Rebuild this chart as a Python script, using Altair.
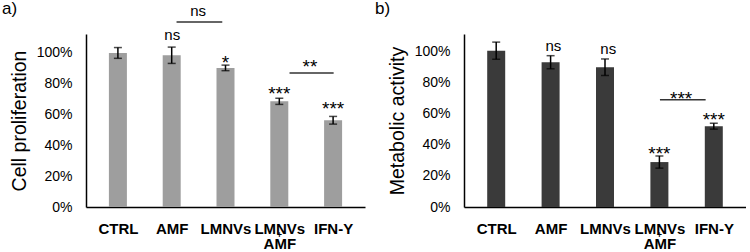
import json
import altair as alt
import pandas as pd

groups = ["CTRL", "AMF", "LMNVs", "LMNVs+AMF", "IFN-Y"]
axis_labels = ["CTRL", "AMF", "LMNVs", ["LMNVs", "AMF"], "IFN-Y"]

# a) cell proliferation (% of control)
prolif_mean = [100.0, 98.5, 90.3, 68.6, 56.3]
prolif_err = [3.5, 5.3, 1.8, 2.0, 2.5]
prolif_sig = ["", "ns", "*", "***", "***"]
prolif_sig_y = [None, 108.4, 89.9, 69.7, 60.0]
prolif_sig_x = [0, 1.01, 2.0, 3.0, 4.0]
prolif_brackets = [
    # from, to, line level, label, label position, label level
    (1.09, 1.94, 120.1, "ns", 1.49, 123.8),
    (3.19, 4.01, 87.0, "**", 3.57, 87.3),
]

# b) metabolic activity (% of control)
metab_mean = [100.2, 92.8, 89.6, 28.8, 51.8]
metab_err = [5.5, 4.2, 5.3, 3.9, 1.9]
metab_sig = ["", "ns", "ns", "***", "***"]
metab_sig_y = [None, 100.2, 98.0, 30.4, 52.2]
metab_sig_x = [0, 1.05, 2.06, 3.0, 4.0]
metab_brackets = [
    (3.01, 3.85, 68.8, "***", 3.40, 65.6),
]

FONT = "Liberation Sans"
H = 173
label_expr = json.dumps(axis_labels) + "[datum.value]"


def panel(means, errs, sig, sig_y, sig_x, brackets, ytitle, ymax, width,
          fill, tag, tag_x):
    idx = list(range(len(groups)))
    df = pd.DataFrame({
        "idx": idx,
        "group": groups,
        "mean": means,
        "lo": [m - e for m, e in zip(means, errs)],
        "hi": [m + e for m, e in zip(means, errs)],
    })
    sig_df = pd.DataFrame({
        "x": sig_x, "y": sig_y, "t": sig,
        "fs": [15 if s == "ns" else 19 for s in sig],
    }).dropna()
    br_df = pd.DataFrame(brackets, columns=["x1", "x2", "ly", "t", "tx", "ty"])
    br_df["fs"] = [15 if s == "ns" else 19 for s in br_df["t"]]

    xscale = alt.Scale(domain=[-0.5, len(groups) - 0.5], nice=False, zero=False)
    yscale = alt.Scale(domain=[0, ymax], nice=False)
    xaxis = alt.Axis(
        values=idx, labelExpr=label_expr, title=None, ticks=False, grid=False,
        labelFont=FONT, labelFontSize=15, labelFontWeight="bold",
        labelColor="black", labelPadding=14, labelFlush=False,
        labelOverlap=False, labelLineHeight=15,
        domainColor="black", domainWidth=1.5,
    )
    yaxis = alt.Axis(
        values=[0, 20, 40, 60, 80, 100], labelExpr="datum.value + '%'",
        title=ytitle, ticks=False, grid=False, labelOverlap=False,
        labelFont=FONT, labelFontSize=14, labelColor="black", labelPadding=14,
        titleFont=FONT, titleFontSize=19.5, titleFontWeight="normal",
        titleColor="black", titlePadding=7,
        domainColor="black", domainWidth=1.5,
    )

    def X(field):
        return alt.X(field, scale=xscale, axis=xaxis)

    def Y(field):
        return alt.Y(field, scale=yscale, axis=yaxis)

    base = alt.Chart(df)
    bars = base.mark_bar(width=18, color=fill).encode(
        x=X("idx:Q"), y=Y("mean:Q"))
    err = base.mark_rule(color="black", strokeWidth=1.5).encode(
        x=X("idx:Q"), y=Y("lo:Q"), y2="hi:Q")
    cap_hi = base.mark_tick(color="black", orient="horizontal", size=8,
                            thickness=1.5).encode(x=X("idx:Q"), y=Y("hi:Q"))
    cap_lo = base.mark_tick(color="black", orient="horizontal", size=8,
                            thickness=1.5).encode(x=X("idx:Q"), y=Y("lo:Q"))
    stars = alt.Chart(sig_df).mark_text(
        font=FONT, baseline="alphabetic", color="black").encode(
        x=X("x:Q"), y=Y("y:Q"), text="t:N",
        size=alt.Size("fs:Q", scale=None))
    br_lines = alt.Chart(br_df).mark_rule(color="#333333", strokeWidth=1.5).encode(
        x=X("x1:Q"), x2="x2:Q", y=Y("ly:Q"))
    br_text = alt.Chart(br_df).mark_text(
        font=FONT, baseline="alphabetic", color="black").encode(
        x=X("tx:Q"), y=Y("ty:Q"), text="t:N",
        size=alt.Size("fs:Q", scale=None))
    plus = alt.Chart(pd.DataFrame({"x": [3], "t": ["+"]})).mark_text(
        font=FONT, fontSize=9, fontWeight="bold", color="black",
        baseline="middle").encode(
        x=X("x:Q"), y=alt.value(H + 27.5), text="t:N")
    label = alt.Chart(pd.DataFrame({"t": [tag]})).mark_text(
        font=FONT, fontSize=17, color="black", align="left",
        baseline="alphabetic").encode(
        x=alt.value(tag_x), y=alt.value(-20), text="t:N")
    return alt.layer(bars, err, cap_hi, cap_lo, stars, br_lines, br_text,
                     plus, label).properties(width=width, height=H)


pa = panel(prolif_mean, prolif_err, prolif_sig, prolif_sig_y, prolif_sig_x,
           prolif_brackets, "Cell proliferation", 112.3, 279,
           "#9e9e9e", "a)", -84)
pb = panel(metab_mean, metab_err, metab_sig, metab_sig_y, metab_sig_x,
           metab_brackets, "Metabolic activity", 110.9, 282,
           "#3a3a3a", "b)", -89)

chart = alt.hconcat(pa, pb, spacing=10).properties(
    padding={"left": 2, "top": 0, "right": 0, "bottom": 0}
).configure_view(stroke=None).configure_axis(labelOverlap=False)

chart.save("out.html", embed_options={"renderer": "svg", "actions": False})
